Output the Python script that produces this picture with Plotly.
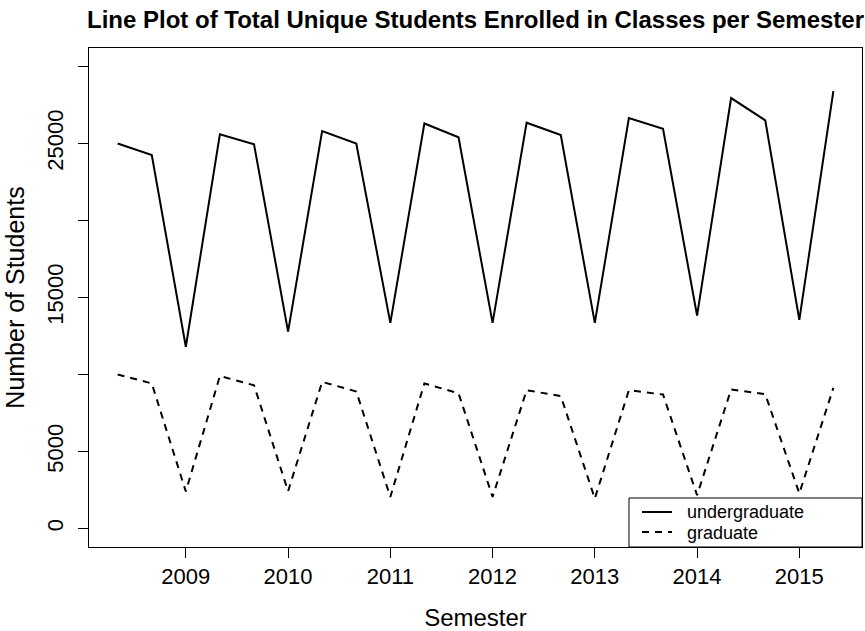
import plotly.graph_objects as go

# ---- data ----
semester = [2008.333, 2008.667, 2009.0, 2009.333, 2009.667, 2010.0, 2010.333, 2010.667,
            2011.0, 2011.333, 2011.667, 2012.0, 2012.333, 2012.667, 2013.0, 2013.333,
            2013.667, 2014.0, 2014.333, 2014.667, 2015.0, 2015.333]
undergraduate = [25000, 24250, 11800, 25600, 24950, 12780, 25800, 25000,
                 13350, 26300, 25400, 13350, 26350, 25550, 13350, 26650,
                 25950, 13830, 27950, 26500, 13550, 28400]
graduate = [10000, 9420, 2400, 9900, 9300, 2420, 9520, 8900,
            2050, 9420, 8780, 2050, 8980, 8600, 1950, 8980,
            8700, 2160, 9030, 8720, 2280, 9130]
x_ticks = [2009, 2010, 2011, 2012, 2013, 2014, 2015]
y_ticks = [0, 5000, 10000, 15000, 20000, 25000, 30000]
y_tick_labels = ["0", "5000", "", "15000", "", "25000", ""]
legend_labels = ["undergraduate", "graduate"]

FONT = "Liberation Sans, Arial, Helvetica, sans-serif"

fig = go.Figure()
fig.add_trace(go.Scatter(x=semester, y=undergraduate, mode="lines", name=legend_labels[0],
                         line=dict(color="black", width=2), showlegend=False))
fig.add_trace(go.Scatter(x=semester, y=graduate, mode="lines", name=legend_labels[1],
                         line=dict(color="black", width=2, dash="7px,6px"), showlegend=False))

L, R, T, B = 89, 3, 48, 84
W, H = 865, 631
pw, ph = W - L - R, H - T - B

def px_x(p):
    return (p - L) / pw

def px_y(p):
    return (H - B - p) / ph

# manual legend (R-style box at bottom right)
shapes = [
    dict(type="rect", xref="paper", yref="paper", x0=px_x(629), x1=1.0, y0=0.0, y1=px_y(498),
         line=dict(color="black", width=1), fillcolor="white", layer="above"),
    dict(type="line", xref="paper", yref="paper", x0=px_x(642), x1=px_x(672),
         y0=px_y(512), y1=px_y(512), line=dict(color="black", width=2), layer="above"),
    dict(type="line", xref="paper", yref="paper", x0=px_x(642), x1=px_x(672),
         y0=px_y(532), y1=px_y(532), line=dict(color="black", width=2, dash="7px,6px"),
         layer="above"),
]
annotations = [
    dict(text=legend_labels[0], xref="paper", yref="paper", x=px_x(685), y=px_y(512),
         xanchor="left", yanchor="middle", showarrow=False,
         font=dict(family=FONT, size=18, color="black")),
    dict(text=legend_labels[1], xref="paper", yref="paper", x=px_x(685), y=px_y(533),
         xanchor="left", yanchor="middle", showarrow=False,
         font=dict(family=FONT, size=18, color="black")),
]

fig.update_layout(
    width=W, height=H,
    margin=dict(l=L, r=R, t=T, b=B),
    paper_bgcolor="white", plot_bgcolor="white",
    font=dict(family=FONT, size=22, color="black"),
    title=dict(text="<b>Line Plot of Total Unique Students Enrolled in Classes per Semester</b>",
               x=(L + pw / 2) / W, xanchor="center", y=1 - 20 / H, yanchor="middle",
               font=dict(family=FONT, size=24, color="black")),
    shapes=shapes,
    annotations=annotations,
)
fig.update_xaxes(range=[2008.053, 2015.613], tickvals=x_ticks, ticks="outside", ticklen=10,
                 tickcolor="black", showline=True, mirror=True, linecolor="black", linewidth=1,
                 showgrid=False, zeroline=False, tickfont=dict(size=22),
                 title=dict(text="Semester", font=dict(size=24), standoff=22))
fig.update_yaxes(range=[-1200, 31200], tickvals=y_ticks, ticktext=y_tick_labels, tickangle=-90,
                 ticks="outside", ticklen=10, tickcolor="black", showline=True, mirror=True,
                 linecolor="black", linewidth=1, showgrid=False, zeroline=False,
                 tickfont=dict(size=22), ticklabelstandoff=6,
                 title=dict(text="Number of Students", font=dict(size=25), standoff=11))

fig.write_html("out.html")
